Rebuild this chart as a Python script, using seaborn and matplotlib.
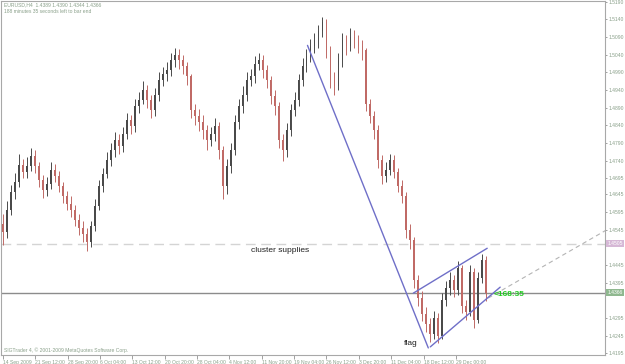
import matplotlib
matplotlib.use("Agg")
import matplotlib.pyplot as plt
import seaborn as sns
import numpy as np
import pandas as pd

# ---------------- data (H4 candles, aggregated) ----------------
first_open = 1.4560
closes = [1.4538, 1.4600, 1.4651, 1.4679, 1.4727, 1.4707, 1.4724, 1.4752, 1.4724, 1.4685,
          1.4656, 1.4673, 1.4713, 1.4696, 1.4668, 1.4639, 1.4617, 1.4600, 1.4572, 1.4549,
          1.4532, 1.4509, 1.4555, 1.4611, 1.4668, 1.4701, 1.4741, 1.4769, 1.4798, 1.4781,
          1.4814, 1.4854, 1.4837, 1.4894, 1.4911, 1.4939, 1.4911, 1.4882, 1.4927, 1.4967,
          1.4984, 1.4995, 1.5024, 1.5040, 1.5024, 1.5007, 1.4978, 1.4882, 1.4865, 1.4848,
          1.4826, 1.4798, 1.4814, 1.4837, 1.4769, 1.4668, 1.4724, 1.4769, 1.4848, 1.4894,
          1.4927, 1.4967, 1.4978, 1.5012, 1.5024, 1.4995, 1.4967, 1.4922, 1.4894, 1.4798,
          1.4769, 1.4826, 1.4882, 1.4911, 1.4967, 1.5007, 1.5035, 1.5063, 1.5080, 1.5108,
          1.5131, 1.5052, 1.4967, 1.4950, 1.5024, 1.5080, 1.5063, 1.5091, 1.5080, 1.5063,
          1.5052, 1.4899, 1.4865, 1.4826, 1.4741, 1.4696, 1.4713, 1.4741, 1.4707, 1.4668,
          1.4639, 1.4543, 1.4515, 1.4402, 1.4351, 1.4306, 1.4278, 1.4249, 1.4295, 1.4244,
          1.4346, 1.4379, 1.4402, 1.4374, 1.4436, 1.4329, 1.4312, 1.4425, 1.4289, 1.4408,
          1.4459, 1.4366]
highs = [1.4590, 1.4625, 1.4672, 1.4705, 1.4760, 1.4745, 1.4750, 1.4775, 1.4770, 1.4735,
         1.4700, 1.4695, 1.4735, 1.4730, 1.4710, 1.4680, 1.4655, 1.4640, 1.4615, 1.4590,
         1.4570, 1.4550, 1.4570, 1.4630, 1.4685, 1.4720, 1.4765, 1.4790, 1.4820, 1.4815,
         1.4835, 1.4875, 1.4870, 1.4915, 1.4935, 1.4965, 1.4955, 1.4925, 1.4945, 1.4990,
         1.5005, 1.5020, 1.5045, 1.5060, 1.5055, 1.5040, 1.5020, 1.4985, 1.4900, 1.4885,
         1.4870, 1.4840, 1.4835, 1.4860, 1.4850, 1.4780, 1.4745, 1.4790, 1.4870, 1.4915,
         1.4950, 1.4990, 1.5000, 1.5035, 1.5045, 1.5040, 1.5010, 1.4980, 1.4940, 1.4905,
         1.4815, 1.4845, 1.4900, 1.4935, 1.4985, 1.5030, 1.5055, 1.5085, 1.5100, 1.5125,
         1.5145, 1.5140, 1.5065, 1.4990, 1.5045, 1.5100, 1.5095, 1.5115, 1.5110, 1.5095,
         1.5080, 1.5060, 1.4915, 1.4880, 1.4840, 1.4755, 1.4735, 1.4760, 1.4755, 1.4720,
         1.4685, 1.4650, 1.4560, 1.4525, 1.4415, 1.4370, 1.4325, 1.4295, 1.4315, 1.4310,
         1.4365, 1.4400, 1.4425, 1.4415, 1.4455, 1.4445, 1.4345, 1.4445, 1.4435, 1.4425,
         1.4475, 1.4470]
lows = [1.4500, 1.4520, 1.4585, 1.4630, 1.4665, 1.4690, 1.4690, 1.4710, 1.4705, 1.4665,
        1.4635, 1.4640, 1.4660, 1.4680, 1.4650, 1.4620, 1.4600, 1.4580, 1.4555, 1.4530,
        1.4510, 1.4485, 1.4495, 1.4540, 1.4600, 1.4650, 1.4690, 1.4725, 1.4750, 1.4760,
        1.4765, 1.4800, 1.4815, 1.4820, 1.4875, 1.4900, 1.4890, 1.4860, 1.4865, 1.4910,
        1.4950, 1.4965, 1.4980, 1.5005, 1.5000, 1.4985, 1.4955, 1.4860, 1.4840, 1.4825,
        1.4800, 1.4770, 1.4780, 1.4795, 1.4745, 1.4630, 1.4645, 1.4705, 1.4755, 1.4830,
        1.4875, 1.4910, 1.4950, 1.4960, 1.4995, 1.4975, 1.4945, 1.4900, 1.4870, 1.4775,
        1.4740, 1.4750, 1.4810, 1.4865, 1.4895, 1.4950, 1.4990, 1.5020, 1.5045, 1.5060,
        1.5090, 1.5030, 1.4945, 1.4925, 1.4940, 1.5005, 1.5040, 1.5050, 1.5060, 1.5045,
        1.5025, 1.4880, 1.4845, 1.4800, 1.4720, 1.4675, 1.4680, 1.4700, 1.4690, 1.4650,
        1.4620, 1.4520, 1.4490, 1.4380, 1.4330, 1.4285, 1.4255, 1.4228, 1.4235, 1.4225,
        1.4235, 1.4330, 1.4360, 1.4355, 1.4360, 1.4310, 1.4290, 1.4300, 1.4265, 1.4280,
        1.4395, 1.4344]

date_labels = ["14 Sep 2009", "21 Sep 12:00", "28 Sep 20:00", "6 Oct 04:00", "13 Oct 12:00",
               "20 Oct 20:00", "28 Oct 04:00", "4 Nov 12:00", "11 Nov 20:00", "19 Nov 04:00",
               "26 Nov 12:00", "3 Dec 20:00", "11 Dec 04:00", "18 Dec 12:00", "29 Dec 00:00"]
price_ticks = [1.5190, 1.5140, 1.5090, 1.5040, 1.4990, 1.4940, 1.4890, 1.4840, 1.4790,
               1.4740, 1.4690, 1.4645, 1.4595, 1.4545, 1.4445, 1.4395, 1.4295, 1.4245, 1.4195]
price_tick_labels = ["1.5190", "1.5140", "1.5090", "1.5040", "1.4990", "1.4940", "1.4890",
                     "1.4840", "1.4790", "1.4740", "1.4695", "1.4645", "1.4595", "1.4545",
                     "1.4445", "1.4395", "1.4295", "1.4245", "1.4195"]

supply_level = 1.4505
header = "EURUSD,H4  1.4389 1.4390 1.4344 1.4366"
timer_text = "188 minutes 35 seconds left to bar end"
countdown = "<168:35"

# trendlines (candle index, price)
steep_line = ([76.25, 106.5], [1.5066, 1.4210])
flag_upper = ([102.75, 121.25], [1.4365, 1.4492])
flag_lower = ([107.0, 124.5], [1.4213, 1.4382])
ray_line = ([121.5, 151.0], [1.4351, 1.4543])

# ---------------- build frame ----------------
opens = [first_open] + closes[:-1]
df = pd.DataFrame({"i": np.arange(len(closes)), "open": opens, "close": closes,
                   "high": highs, "low": lows})
df["dir"] = np.where(df["close"] >= df["open"], "up", "down")

sns.set_theme(style="white")
plt.rcParams["font.family"] = ["Liberation Sans", "DejaVu Sans"]

fig = plt.figure(figsize=(6.25, 3.64), dpi=100)
ax = fig.add_axes([1 / 625, 9 / 364, 604 / 625, 354.5 / 364])

up_c = "#4a4a4a"
dn_c = "#c06a66"
cols = df["dir"].map({"up": up_c, "down": dn_c})

ax.vlines(df["i"], df["low"], df["high"], colors=cols, lw=0.7, zorder=3)
body_bottom = np.minimum(df["open"], df["close"])
body_h = np.maximum(np.abs(df["close"] - df["open"]), 0.00015)
ax.bar(df["i"], body_h, bottom=body_bottom, width=0.45, color=cols, linewidth=0, zorder=4)

xmin, xmax = -0.5, 150.75
ymin, ymax = 1.4190, 1.5193
ax.set_xlim(xmin, xmax)
ax.set_ylim(ymin, ymax)

# horizontal lines
ax.axhline(supply_level, color="#d4d4d4", lw=1.0, ls=(0, (7, 4)), zorder=2)
ax.axhline(closes[-1], color="#8c8c8c", lw=1.0, zorder=2)

# trendlines
tl_col = "#6f6fc8"
for xs, ys in (steep_line, flag_upper, flag_lower):
    ax.plot(xs, ys, color=tl_col, lw=1.0, zorder=5)
ax.plot(*ray_line, color="#b4b4b4", lw=0.8, ls=(0, (4, 3)), zorder=2)

# texts
txt_c = "#8aa08a"
fs = 3.6
ax.text(0.005, 0.995, header, transform=ax.transAxes, fontsize=fs, color=txt_c, va="top", ha="left")
ax.text(0.005, 0.975, timer_text, transform=ax.transAxes, fontsize=fs, color=txt_c, va="top", ha="left")
ax.text(0.005, 0.006, "SIGTrader 4, \u00a9 2001-2009 MetaQuotes Software Corp.", transform=ax.transAxes,
        fontsize=fs, color=txt_c, va="bottom", ha="left")
ax.text(62.0, 1.4487, "cluster supplies", fontsize=6, color="#202020", va="center", ha="left")
ax.text(100.3, 1.4222, "flag", fontsize=6, color="#202020", va="center", ha="left")
ax.text(122.8, closes[-1] - 0.0004, countdown, fontsize=6, color="#22cc22", fontweight="bold",
        va="center", ha="left", zorder=6)

# right axis
ax.yaxis.tick_right()
ax.set_yticks(price_ticks)
ax.set_yticklabels(price_tick_labels)
ax.tick_params(axis="y", which="both", direction="out", length=1.5, width=0.6, color="#909090",
               labelsize=fs, labelcolor=txt_c, pad=0.8, right=True, left=False)

# price labels on axis
ax.text(1.004, supply_level, "1.4505", transform=ax.get_yaxis_transform(), fontsize=fs,
        color="white", va="center", ha="left",
        bbox=dict(boxstyle="square,pad=0.2", fc="#d6b8d6", ec="none"), zorder=10, clip_on=False)
ax.text(1.004, closes[-1], "1.4366", transform=ax.get_yaxis_transform(), fontsize=fs,
        color="white", va="center", ha="left",
        bbox=dict(boxstyle="square,pad=0.2", fc="#8fb88f", ec="none"), zorder=10, clip_on=False)

# bottom axis (date labels, left aligned beside tick)
tick_pos = [k * 8.1 for k in range(len(date_labels))]
ax.set_xticks(tick_pos)
ax.set_xticklabels(date_labels)
for lab in ax.get_xticklabels():
    lab.set_horizontalalignment("left")
ax.tick_params(axis="x", direction="out", length=3, width=0.6, color="#909090",
               labelsize=fs, labelcolor=txt_c, pad=0.5, bottom=True)

for s in ax.spines.values():
    s.set_color("#a8a8a8")
    s.set_linewidth(0.8)
ax.grid(False)
ax.set_xlabel("")
ax.set_ylabel("")

fig.savefig("out.png", dpi=100, facecolor="white")
